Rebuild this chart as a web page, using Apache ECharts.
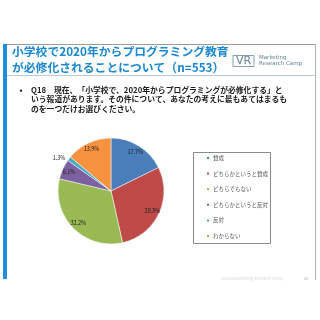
<!DOCTYPE html>
<html lang="ja">
<head>
    <meta charset="UTF-8">
    <title>プログラミング教育</title>
    <script src="https://cdn.jsdelivr.net/npm/echarts@6/dist/echarts.min.js"></script>
    <style>
        html, body {
            margin: 0;
            padding: 0;
            background: #fff;
        }
        #main {
            width: 320px;
            height: 320px;
        }
    </style>
</head>
<body>
<div id="main"></div>
<script type="text/javascript">
    // 回答の選択肢と割合(%)
    var categories = ['賛成', 'どちらかというと賛成', 'どちらでもない', 'どちらかというと反対', '反対', 'わからない'];
    var values = [17.7, 28.8, 32.2, 6.1, 1.3, 13.9];
    var colors = ['#4a7ebb', '#be4b48', '#98b954', '#7d60a0', '#46aac5', '#f69240'];

    var titleLines = ['小学校で2020年からプログラミング教育', 'が必修化されることについて（n=553）'];
    var questionLines = [
        'Q18　現在、「小学校で、2020年からプログラミングが必修化する」と',
        'いう報道があります。その件について、あなたの考えに最もあてはまるも',
        'のを一つだけお選びください。'
    ];

    var font = '"Noto Sans CJK JP", "Noto Sans", sans-serif';
    var myChart = echarts.init(document.getElementById('main'));

    var pieData = categories.map(function (name, i) {
        return {name: name, value: values[i], itemStyle: {color: colors[i]}};
    });

    // ラベル用の透明リング（ラベルを外寄りに置くため）
    var labelData = categories.map(function (name, i) {
        var item = {name: name, value: values[i]};
        if (values[i] < 3) {
            item.label = {position: 'outside', distanceToLabelLine: 2};
            item.labelLine = {show: false, length: 2, length2: 0};
        }
        return item;
    });

    var legendData = categories.map(function (name, i) {
        return {name: name, itemStyle: {color: colors[i]}, textStyle: {color: '#555'}};
    });

    var graphics = [
        // スライド枠
        {type: 'line', shape: {x1: 3, y1: 44.5, x2: 316, y2: 44.5}, style: {stroke: '#9a9a9a', lineWidth: 1}},
        {type: 'line', shape: {x1: 315.5, y1: 44, x2: 315.5, y2: 280}, style: {stroke: '#b0b0b0', lineWidth: 1}},
        {type: 'line', shape: {x1: 7, y1: 75.5, x2: 316, y2: 75.5}, style: {stroke: '#b9c9d8', lineWidth: 1}},
        {type: 'rect', shape: {x: 3, y: 44, width: 4, height: 235}, style: {fill: '#1e8fe0'}},
        // ロゴ
        {type: 'rect', shape: {x: 233, y: 55.5, width: 21, height: 11}, style: {fill: 'none', stroke: '#6b8a9c', lineWidth: 0.8}},
        {type: 'text', x: 243.5, y: 61, style: {text: 'VR', font: '300 11px "DejaVu Sans"', fill: 'none', stroke: '#6b8a9c', lineWidth: 0.6, align: 'center', verticalAlign: 'middle'}},
        {type: 'text', x: 259, y: 58, style: {text: 'Marketing', font: '5.5px "DejaVu Sans"', fill: '#5f7f92', verticalAlign: 'middle'}},
        {type: 'text', x: 259, y: 64, style: {text: 'Research Camp', font: '5.5px "DejaVu Sans"', fill: '#5f7f92', verticalAlign: 'middle'}},
        // 凡例の枠
        {type: 'rect', shape: {x: 193.5, y: 152.5, width: 77, height: 91}, style: {fill: 'none', stroke: '#8a8a8a', lineWidth: 1}},
        // フッター
        {type: 'text', x: 252, y: 278, style: {text: '©2016 Marketing Research Camp', font: '4px ' + font, fill: '#d8d8d8', align: 'center', verticalAlign: 'middle'}},
        {type: 'text', x: 306, y: 278, style: {text: '35', font: '4px ' + font, fill: '#aaa', align: 'center', verticalAlign: 'middle'}},
        // 設問の箇条書き
        {type: 'text', x: 21, y: 90, style: {text: '•', font: 'bold 8px ' + font, fill: '#222', align: 'center', verticalAlign: 'middle'}}
    ];

    titleLines.forEach(function (t, i) {
        graphics.push({type: 'text', x: 12, y: 51.5 + i * 16, style: {text: t, font: 'bold 11.8px ' + font, fill: '#1a88d2', verticalAlign: 'middle'}});
    });
    questionLines.forEach(function (t, i) {
        graphics.push({type: 'text', x: 31, y: 90 + i * 9.3, style: {text: t, font: 'bold 7.8px ' + font, fill: '#222', verticalAlign: 'middle'}});
    });

    var option = {
        animation: false,
        color: colors,
        legend: {
            orient: 'vertical',
            left: 205,
            top: 155,
            padding: 0,
            itemWidth: 4,
            itemHeight: 4,
            itemGap: 9.6,
            icon: 'rect',
            data: legendData,
            textStyle: {fontFamily: font, fontSize: 5.5, lineHeight: 6, color: '#555', padding: [0, 0, 0, -2]}
        },
        graphic: graphics,
        series: [
            {
                type: 'pie',
                center: [111, 191],
                radius: [0, 53],
                startAngle: 90,
                clockwise: true,
                silent: true,
                itemStyle: {borderColor: '#fff', borderWidth: 0.5},
                label: {show: false},
                labelLine: {show: false},
                data: pieData
            },
            {
                type: 'pie',
                center: [111, 191],
                radius: [33, 53],
                startAngle: 90,
                clockwise: true,
                silent: true,
                legendHoverLink: false,
                itemStyle: {color: 'transparent'},
                label: {
                    show: true,
                    position: 'inside',
                    formatter: function (p) {
                        return p.value.toFixed(1) + '%';
                    },
                    fontFamily: font,
                    fontSize: 5.5,
                    color: '#222'
                },
                labelLine: {show: false},
                data: labelData
            }
        ]
    };

    myChart.setOption(option);
</script>
</body>
</html>
